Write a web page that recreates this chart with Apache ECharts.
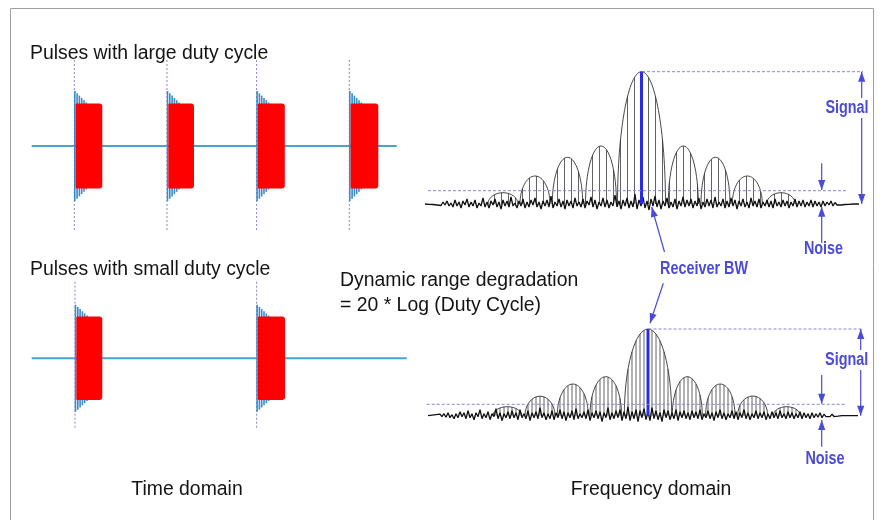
<!DOCTYPE html>
<html><head><meta charset="utf-8">
<script src="https://cdn.jsdelivr.net/npm/echarts@6/dist/echarts.min.js"></script>
<style>html,body{margin:0;padding:0;background:#fff}#c{width:883px;height:520px}</style>
</head><body><div id="c"></div>
<script>
// ---------- Time domain data ----------
const largePulseStarts = [55, 147.7, 237.3, 330];
const largePulseWidths = [27.3, 26.3, 27.5, 28.3];
const smallPulseStarts = [55.7, 237.3];
const smallPulseWidths = [26.6, 27.7];
const largePulseAmp = 42.5, largePulseRing = 55;
const smallPulseAmp = 41.7, smallPulseRing = 53.5;
const largeBaseline = [[11.7, 0], [376.7, 0]];
const smallBaseline = [[11.7, 0], [386.7, 0]];
const largeGuideSpan = [86, -86];
const smallGuideSpan = [76.6, -69.7];

// ---------- Frequency domain data: [centre, half width, height] ----------
const topLobes = [[78,15,11.3],[110,15,28],[142.5,15.2,46.7],[176,15.5,58],[216.5,24,132.3],[258.3,15,58],[290.5,14.5,46.7],[322.3,15,28],[356,14.2,11.3]];
const bottomLobes = [[82.3,14.3,9],[115,15,19.5],[147.8,15.5,31.7],[180.8,15.8,39],[223,23.7,86.7],[262.3,15,39],[295.3,14.7,31.7],[327.7,15,19.7],[361.7,13.5,9]];
const topLineSpacing = 7, bottomLineSpacing = 4;
const topCentre = 216.5, bottomCentre = 223;
const topPeak = 132.3, bottomPeak = 86.7;
const topNoiseFloor = 13.3, bottomNoiseFloor = 11.4;
const noiseStep = 2;
const topNoiseStart = 0, bottomNoiseStart = 3;
const topNoise = [
 0, 0.3, -0.3, 0.5, -0.5, 0.8, -1, 1, -1.5, 2,
 -1, 3, -2, 1, -3, 4, -2, 2, -4, 3,
 -1, 5, -3, 2, -2, 4, -4, 1, -2, 6,
 -3, 2, -4, 3, -1, 5, -3, 2, -5, 4,
 -2, 3, -3, 7, -2, 1, -4, 3, -2, 5,
 -4, 2, -3, 4, -1, 6, -3, 2, -5, 3,
 -2, 4, -3, 8, -4, 2, -2, 5, -3, 3,
 -5, 4, -2, 3, -4, 6, -2, 2, -3, 5,
 -4, 3, -1, 7, -3, 4, -5, 2, -2, 6,
 -3, 4, -4, 2, -2, 9, -3, 3, -5, 4,
 -2, 6, -4, 3, -3, 10, -5, 4, -2, 7,
 -4, 3, -6, 5, -2, 8, -3, 4, -5, 3,
 -2, 6, -4, 2, -3, 5, -5, 3, -2, 7,
 -3, 4, -2, 5, -4, 3, -2, 6, -5, 2,
 -3, 5, -2, 4, -4, 7, -3, 2, -2, 5,
 -4, 3, -3, 6, -2, 4, -5, 3, -2, 5,
 -3, 2, -4, 6, -2, 3, -3, 5, -4, 2,
 -2, 4, -3, 3, -4, 5, -2, 2, -3, 4,
 -2, 3, -4, 2, -2, 5, -3, 3, -2, 4,
 -3, 2, -2, 4, -3, 3, -2, 2, -3, 3,
 -2, 2, -1, 3, -2, 1.5, -1, 1, -1, 0.8,
 -0.5, 0.5, -0.3, 0.3, 0, 0, 0, 0
];
const bottomNoise = [
 0, -0.3, 0.5, -0.5, 1, -0.8, 1.5, -1, 2, -1.5,
 3, -2, 1, -3, 2, -2, 4, -1, 3, -3,
 5, -2, 2, -4, 3, -1, 6, -3, 2, -2,
 4, -4, 2, -1, 7, -3, 3, -5, 2, -2,
 4, -3, 5, -2, 3, -4, 6, -2, 2, -3,
 5, -5, 3, -2, 4, -3, 8, -2, 3, -4,
 2, -3, 5, -4, 3, -2, 6, -3, 4, -5,
 3, -2, 5, -4, 7, -3, 2, -2, 4, -3,
 6, -5, 3, -2, 5, -3, 4, -6, 3, -2,
 8, -4, 3, -3, 5, -2, 6, -5, 4, -3,
 9, -5, 4, -3, 6, -6, 5, -2, 7, -4,
 4, -5, 8, -3, 5, -4, 3, -6, 6, -2,
 5, -4, 3, -3, 6, -5, 4, -2, 5, -3,
 3, -4, 5, -2, 4, -3, 6, -4, 2, -2,
 5, -3, 3, -5, 4, -2, 6, -3, 3, -4,
 2, -2, 5, -3, 4, -4, 3, -2, 6, -3,
 3, -4, 2, -2, 5, -3, 3, -2, 4, -4,
 2, -3, 4, -2, 3, -3, 5, -2, 2, -3,
 4, -2, 3, -3, 2, -2, 4, -3, 3, -2,
 2, -3, 3, -2, 2, -1.5, 3, -2, 1.5, -1,
 1, -1, 1.5, -0.8, 0.5, -0.5, 0.3, 0, 0, 0,
 0, 0, 0, 0, 0, 0
];

// ---------- styles ----------
const BLUE = '#4b4bd6';
const DASH = '#8686d2';
const CYAN = '#45a5d2';
const RING = '#3a8cc8';

function arrowHead(children, from, tip, color) {
  const dx = tip[0] - from[0], dy = tip[1] - from[1];
  const len = Math.hypot(dx, dy) || 1;
  const ux = dx / len, uy = dy / len, L = 10, W = 3.6;
  const bx = tip[0] - ux * L, by = tip[1] - uy * L;
  children.push({type: 'polygon', shape: {points: [[tip[0], tip[1]], [bx - uy * W, by + ux * W], [bx + uy * W, by - ux * W]]}, style: {fill: color}});
}
function arrow(children, from, tip, color, both) {
  children.push({type: 'line', shape: {x1: from[0], y1: from[1], x2: tip[0], y2: tip[1]}, style: {stroke: color, lineWidth: 1.2}});
  arrowHead(children, from, tip, color);
  if (both) arrowHead(children, tip, from, color);
}
function label(children, p, text, bg) {
  children.push({type: 'text', x: p[0], y: p[1], scaleX: 0.8, z2: 10,
    style: {text: text, font: 'bold 18px "Liberation Sans", Arial, sans-serif', fill: BLUE,
      align: 'center', verticalAlign: 'middle', backgroundColor: bg ? '#fff' : null, padding: bg ? [1, 3] : 0}});
}

function pulseRender(amp, ring, span) {
  return function (params, api) {
    const s = api.value(0), w = api.value(1);
    const ch = [];
    const g1 = api.coord([s - 0.7, span[0]]), g2 = api.coord([s - 0.7, span[1]]);
    ch.push({type: 'line', shape: {x1: g1[0], y1: g1[1], x2: g2[0], y2: g2[1]}, style: {stroke: DASH, lineWidth: 1, lineDash: [2, 2]}});
    const n = 5;
    for (let i = 0; i <= n; i++) {
      const a = ring - (ring - amp - 1) * (i / n);
      const x = s - 0.2 + i * 2.3;
      const p1 = api.coord([x, a]), p2 = api.coord([x, -a]);
      ch.push({type: 'line', shape: {x1: p1[0], y1: p1[1], x2: p2[0], y2: p2[1]}, style: {stroke: RING, lineWidth: 1.6}});
    }
    const tl = api.coord([s + 0.6, amp]), br = api.coord([s + w, -amp]);
    ch.push({type: 'rect', shape: {x: tl[0], y: tl[1], width: br[0] - tl[0], height: br[1] - tl[1], r: [1, 3, 3, 1]}, style: {fill: '#ff0000'}});
    return {type: 'group', children: ch};
  };
}

function lobeRender(spacing, centre) {
  return function (params, api) {
    const c = api.value(0), hw = api.value(1), h = api.value(2);
    const L = api.coord([c - hw, 0]), P = api.coord([c, h]), R = api.coord([c + hw, 0]);
    const k = 0.5523, w = R[0] - P[0], H = L[1] - P[1];
    const ch = [];
    const kmin = Math.ceil((c - hw - centre) / spacing), kmax = Math.floor((c + hw - centre) / spacing);
    for (let j = kmin; j <= kmax; j++) {
      const x = centre + j * spacing;
      const t = (x - c) / hw;
      if (Math.abs(t) >= 0.98) continue;
      const yy = h * Math.sqrt(1 - t * t);
      const a = api.coord([x, 0]), b = api.coord([x, yy]);
      ch.push({type: 'line', shape: {x1: a[0], y1: a[1], x2: b[0], y2: b[1]}, style: {stroke: '#3a3a3a', lineWidth: 0.8}});
    }
    const d = 'M' + L[0] + ',' + L[1] + ' C' + L[0] + ',' + (L[1] - k * H) + ' ' + (P[0] - k * w) + ',' + P[1] + ' ' + P[0] + ',' + P[1] +
      ' C' + (P[0] + k * w) + ',' + P[1] + ' ' + R[0] + ',' + (R[1] - k * H) + ' ' + R[0] + ',' + R[1];
    ch.push({type: 'path', shape: {pathData: d}, style: {fill: null, stroke: '#333', lineWidth: 0.9}});
    return {type: 'group', children: ch};
  };
}

function topAnnot(params, api) {
  const ch = [];
  const c = api.coord;
  let a = c([topCentre + 0.5, topPeak]), b = c([438, topPeak]);
  ch.push({type: 'line', shape: {x1: a[0], y1: a[1], x2: b[0], y2: b[1]}, style: {stroke: DASH, lineWidth: 1, lineDash: [3, 2]}});
  a = c([3, topNoiseFloor]); b = c([421.7, topNoiseFloor]);
  ch.push({type: 'line', shape: {x1: a[0], y1: a[1], x2: b[0], y2: b[1]}, style: {stroke: DASH, lineWidth: 1, lineDash: [3, 2]}});
  arrow(ch, c([436.7, 0]), c([436.7, topPeak]), BLUE, true);
  label(ch, c([422, 96]), 'Signal', true);
  arrow(ch, c([396.7, 40.7]), c([396.7, topNoiseFloor + 0.6]), BLUE);
  arrow(ch, c([396.7, -39]), c([396.7, -2.7]), BLUE);
  label(ch, c([398.5, -45]), 'Noise');
  arrow(ch, c([239.5, -48]), c([226.7, -3]), BLUE);
  label(ch, c([279, -65]), 'Receiver BW');
  return {type: 'group', children: ch};
}
function bottomAnnot(params, api) {
  const ch = [];
  const c = api.coord;
  let a = c([bottomCentre + 0.5, bottomPeak]), b = c([438, bottomPeak]);
  ch.push({type: 'line', shape: {x1: a[0], y1: a[1], x2: b[0], y2: b[1]}, style: {stroke: DASH, lineWidth: 1, lineDash: [3, 2]}});
  a = c([1.7, bottomNoiseFloor]); b = c([420, bottomNoiseFloor]);
  ch.push({type: 'line', shape: {x1: a[0], y1: a[1], x2: b[0], y2: b[1]}, style: {stroke: DASH, lineWidth: 1, lineDash: [3, 2]}});
  arrow(ch, c([435.7, 0]), c([435.7, bottomPeak]), BLUE, true);
  label(ch, c([421.7, 55.7]), 'Signal', true);
  arrow(ch, c([396.7, 40.7]), c([396.7, bottomNoiseFloor + 0.6]), BLUE);
  arrow(ch, c([396.7, -31]), c([396.7, -4.3]), BLUE);
  label(ch, c([400, -43.3]), 'Noise');
  arrow(ch, c([238.3, 132.4]), c([225, 92.4]), BLUE);
  return {type: 'group', children: ch};
}

const hidden = {show: false};
const grids = [
  {left: 20, top: 56, width: 400, height: 180},
  {left: 20, top: 268.3, width: 400, height: 180},
  {left: 425, top: 54, width: 438, height: 230},
  {left: 425, top: 265.7, width: 438, height: 210}
].map(g => Object.assign({containLabel: false, show: false}, g));
const xAxes = [
  {gridIndex: 0, type: 'value', min: 0, max: 400},
  {gridIndex: 1, type: 'value', min: 0, max: 400},
  {gridIndex: 2, type: 'value', min: 0, max: 438},
  {gridIndex: 3, type: 'value', min: 0, max: 438}
].map(a => Object.assign({show: false, splitLine: hidden}, a));
const yAxes = [
  {gridIndex: 0, type: 'value', min: -90, max: 90},
  {gridIndex: 1, type: 'value', min: -90, max: 90},
  {gridIndex: 2, type: 'value', min: -80, max: 150},
  {gridIndex: 3, type: 'value', min: -60, max: 150}
].map(a => Object.assign({show: false, splitLine: hidden}, a));

const txt = (t, x, y, align) => ({type: 'text', x: x, y: y, style: {text: t, font: '19.4px "Liberation Sans", Arial, sans-serif', fill: '#141414', align: align || 'left', verticalAlign: 'middle'}});

const option = {
  animation: false,
  backgroundColor: '#fff',
  grid: grids, xAxis: xAxes, yAxis: yAxes,
  graphic: [
    {type: 'rect', shape: {x: 10.5, y: 8.5, width: 863, height: 540}, style: {fill: null, stroke: '#a0a0a0', lineWidth: 1}, silent: true},
    txt('Pulses with large duty cycle', 30, 54),
    txt('Pulses with small duty cycle', 30, 270),
    txt('Dynamic range degradation', 340, 281),
    txt('= 20 * Log (Duty Cycle)', 340, 306),
    txt('Time domain', 187, 490, 'center'),
    txt('Frequency domain', 651, 490, 'center')
  ],
  series: [
    {type: 'line', xAxisIndex: 0, yAxisIndex: 0, data: largeBaseline, symbol: 'none', lineStyle: {color: CYAN, width: 2}, z: 1},
    {type: 'line', xAxisIndex: 1, yAxisIndex: 1, data: smallBaseline, symbol: 'none', lineStyle: {color: CYAN, width: 2}, z: 1},
    {type: 'custom', xAxisIndex: 0, yAxisIndex: 0, clip: false, z: 2,
      data: largePulseStarts.map((s, i) => [s, largePulseWidths[i]]), renderItem: pulseRender(largePulseAmp, largePulseRing, largeGuideSpan)},
    {type: 'custom', xAxisIndex: 1, yAxisIndex: 1, clip: false, z: 2,
      data: smallPulseStarts.map((s, i) => [s, smallPulseWidths[i]]), renderItem: pulseRender(smallPulseAmp, smallPulseRing, smallGuideSpan)},
    {type: 'custom', xAxisIndex: 2, yAxisIndex: 2, clip: false, z: 2, data: topLobes, renderItem: lobeRender(topLineSpacing, topCentre)},
    {type: 'custom', xAxisIndex: 3, yAxisIndex: 3, clip: false, z: 2, data: bottomLobes, renderItem: lobeRender(bottomLineSpacing, bottomCentre)},
    {type: 'line', xAxisIndex: 2, yAxisIndex: 2, data: topNoise.map((v, i) => [topNoiseStart + i * noiseStep, v]), symbol: 'none', lineStyle: {color: '#111', width: 1.3}, z: 3},
    {type: 'line', xAxisIndex: 3, yAxisIndex: 3, data: bottomNoise.map((v, i) => [bottomNoiseStart + i * noiseStep, v]), symbol: 'none', lineStyle: {color: '#111', width: 1.3}, z: 3},
    {type: 'line', xAxisIndex: 2, yAxisIndex: 2, data: [[topCentre, 0], [topCentre, topPeak]], symbol: 'none', lineStyle: {color: '#2b2bea', width: 3}, z: 4},
    {type: 'line', xAxisIndex: 3, yAxisIndex: 3, data: [[bottomCentre, 0], [bottomCentre, bottomPeak]], symbol: 'none', lineStyle: {color: '#2b2bea', width: 3}, z: 4},
    {type: 'custom', xAxisIndex: 2, yAxisIndex: 2, clip: false, z: 5, data: [0], renderItem: topAnnot},
    {type: 'custom', xAxisIndex: 3, yAxisIndex: 3, clip: false, z: 5, data: [0], renderItem: bottomAnnot}
  ]
};
const chart = echarts.init(document.getElementById('c'), null, {renderer: 'canvas'});
chart.setOption(option);
</script>
</body></html>
